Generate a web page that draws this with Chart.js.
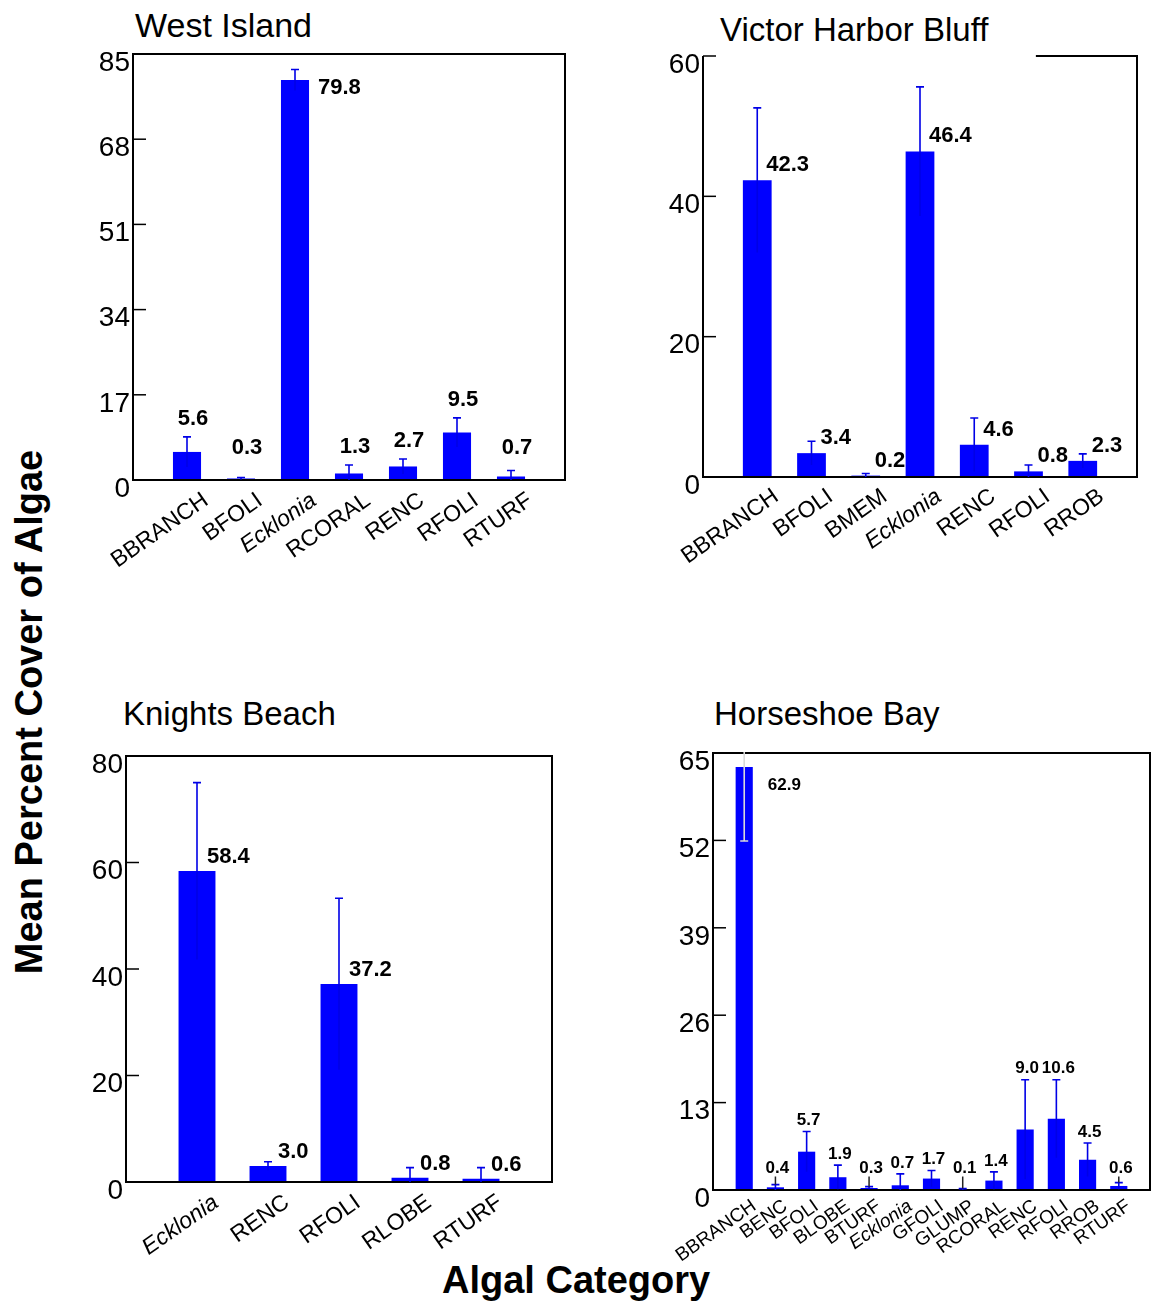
<!DOCTYPE html>
<html>
<head>
<meta charset="utf-8">
<script src="https://cdn.jsdelivr.net/npm/chart.js@4.4.1/dist/chart.umd.min.js"></script>
<style>
body{margin:0;background:#fff;width:1152px;height:1315px;position:relative;overflow:hidden;font-family:"Liberation Sans",Arial,sans-serif;color:#000}
canvas{position:absolute}
.ttl{position:absolute;font-size:33px;line-height:33px;white-space:nowrap}
.axt{position:absolute;font-size:38px;line-height:38px;font-weight:bold;white-space:nowrap}
</style>
</head>
<body>
<div class="ttl" style="left:135px;top:9px;font-size:34px">West Island</div>
<div class="ttl" style="left:720px;top:13px">Victor Harbor Bluff</div>
<div class="ttl" style="left:123px;top:697px">Knights Beach</div>
<div class="ttl" style="left:714px;top:697px">Horseshoe Bay</div>
<div class="axt" style="left:442px;top:1261px">Algal Category</div>
<div class="axt" style="left:29px;top:712px;transform:translate(-50%,-50%) rotate(-90deg)">Mean Percent Cover of Algae</div>

<canvas id="west"></canvas>
<canvas id="victor"></canvas>
<canvas id="knights"></canvas>
<canvas id="horse"></canvas>

<script>
// West Island
const westCats=['BBRANCH','BFOLI','Ecklonia','RCORAL','RENC','RFOLI','RTURF']
const westMeans=[5.6,0.3,79.8,1.3,2.7,9.5,0.7]
const westErrs=[3.0,0.2,2.1,1.7,1.5,2.9,1.2]
const westTicks=[0,17,34,51,68,85]

// Victor Harbor Bluff
const victorCats=['BBRANCH','BFOLI','BMEM','Ecklonia','RENC','RFOLI','RROB']
const victorMeans=[42.3,3.4,0.2,46.4,4.6,0.8,2.3]
const victorErrs=[10.3,1.7,0.3,9.2,3.8,0.9,1.0]
const victorTicks=[0,20,40,60]

// Knights Beach
const knightsCats=['Ecklonia','RENC','RFOLI','RLOBE','RTURF']
const knightsMeans=[58.4,3.0,37.2,0.8,0.6]
const knightsErrs=[16.6,0.8,16.1,1.9,2.1]
const knightsTicks=[0,20,40,60,80]

// Horseshoe Bay
const horseCats=['BBRANCH','BENC','BFOLI','BLOBE','BTURF','Ecklonia','GFOLI','GLUMP','RCORAL','RENC','RFOLI','RROB','RTURF']
const horseMeans=[62.9,0.4,5.7,1.9,0.3,0.7,1.7,0.1,1.4,9.0,10.6,4.5,0.6]
const horseErrs=[11.0,0.4,3.0,1.8,0.2,1.7,1.2,0.1,1.3,7.4,5.8,2.5,0.5]
const horseTicks=[0,13,26,39,52,65]

Chart.defaults.font.family='"Liberation Sans", Arial, sans-serif'
Chart.defaults.color='#000'

const BLUE='#0000ff'

// draws box, inner ticks, error bars and value labels
function overlay(o){
  return {
    id:'overlay',
    afterDatasetsDraw(chart){
      const ctx=chart.ctx, a=chart.chartArea, y=chart.scales.y
      const meta=chart.getDatasetMeta(0)
      ctx.save()
      ctx.strokeStyle='#000'
      ctx.lineWidth=2
      ctx.beginPath()
      ctx.moveTo(a.left+(a.right-a.left)*(o.topFrom||0),a.top)
      ctx.lineTo(a.right,a.top)
      ctx.lineTo(a.right,a.bottom)
      ctx.lineTo(a.left,a.bottom)
      ctx.lineTo(a.left,a.top)
      if(!o.topFrom) ctx.closePath()
      ctx.stroke()
      ctx.lineWidth=1.5
      y.ticks.forEach(t=>{
        const py=y.getPixelForValue(t.value)
        ctx.beginPath(); ctx.moveTo(a.left,py); ctx.lineTo(a.left+13,py); ctx.stroke()
      })

      // error bars, clipped to the plot
      ctx.save()
      ctx.beginPath(); ctx.rect(a.left,a.top-1,a.right-a.left,a.bottom-a.top+1); ctx.clip()
      o.means.forEach((m,i)=>{
        const bar=meta.data[i+1]
        const top=y.getPixelForValue(m+o.errs[i])
        const low=y.getPixelForValue(Math.max(0,m-o.errs[i]))
        ctx.strokeStyle=(o.errColor&&o.errColor[i])||'#0000e6'
        ctx.lineWidth=1.6
        ctx.beginPath(); ctx.moveTo(bar.x,low); ctx.lineTo(bar.x,top)
        ctx.moveTo(bar.x-4,top); ctx.lineTo(bar.x+4,top)
        if(o.errColor&&o.errColor[i]){ctx.moveTo(bar.x-4,low); ctx.lineTo(bar.x+4,low)}
        ctx.stroke()
      })
      ctx.restore()

      ctx.fillStyle='#000'
      ctx.font='bold '+o.labelSize+'px "Liberation Sans", Arial, sans-serif'
      ctx.textBaseline='middle'
      o.means.forEach((m,i)=>{
        const bar=meta.data[i+1]
        const txt=m.toFixed(1)
        const barTop=y.getPixelForValue(m)
        const errTop=y.getPixelForValue(m+o.errs[i])
        if(o.mode==='side'){
          ctx.textAlign='left'
          ctx.fillText(txt,bar.x+o.dx,barTop-o.gap)
          return
        }
        let ly=Math.min(errTop-o.gap,a.bottom-o.floor)
        if(ly-o.labelSize/2<a.top+4){
          ctx.textAlign='left'
          ctx.fillText(txt,bar.x+bar.width/2+o.sideDx,barTop+o.drop)
          return
        }
        ctx.textAlign='center'
        ctx.fillText(txt,bar.x+o.dx,ly)
        const lb=ly+o.labelSize/2
        if(o.leaders&&errTop-lb>5){
          ctx.strokeStyle='#222'; ctx.lineWidth=1.5
          ctx.beginPath(); ctx.moveTo(bar.x,lb); ctx.lineTo(bar.x,errTop); ctx.stroke()
        }
      })
      ctx.restore()
    }
  }
}

function makeChart(id,cats,means,errs,ticks,L,o){
  const cv=document.getElementById(id)
  const [cl,ct,cr,cb]=L.canvas
  const [pl,pt,pr,pb]=L.plot
  cv.width=cr-cl; cv.height=cb-ct
  cv.style.left=cl+'px'; cv.style.top=ct+'px'
  cv.style.width=(cr-cl)+'px'; cv.style.height=(cb-ct)+'px'
  o.means=means; o.errs=errs
  return new Chart(cv,{
    type:'bar',
    data:{
      labels:['',...cats,''],
      datasets:[{data:[null,...means,null],backgroundColor:BLUE,borderWidth:0,
        barPercentage:o.barPct,categoryPercentage:1}]
    },
    options:{
      responsive:false,animation:false,events:[],
      layout:{padding:{top:pt-ct,right:cr-pr,left:0,bottom:0}},
      plugins:{legend:{display:false},tooltip:{enabled:false}},
      scales:{
        x:{
          type:'category',offset:false,
          grid:{display:false,drawTicks:false},border:{display:false},
          ticks:{autoSkip:false,minRotation:35,maxRotation:35,padding:o.xPad,labelOffset:o.xOff,color:'#000',
            font:c=>({size:o.xSize,style:(c.tick&&c.tick.label==='Ecklonia')?'italic':'normal'})},
          afterFit:s=>{s.height=cb-pb;s.paddingLeft=0;s.paddingRight=0}
        },
        y:{
          min:0,max:ticks[ticks.length-1],
          grid:{display:false,drawTicks:false},border:{display:false},
          ticks:{padding:3,labelOffset:9,color:'#000',font:{size:28}},
          afterBuildTicks:s=>{s.ticks=ticks.map(v=>({value:v}))},
          afterFit:s=>{s.width=pl-cl;s.paddingTop=0;s.paddingBottom=0}
        }
      }
    },
    plugins:[overlay(o)]
  })
}

makeChart('west',westCats,westMeans,westErrs,westTicks,
  {canvas:[40,20,590,585],plot:[133,54,565,480]},
  {barPct:0.52,xSize:23,xPad:7,xOff:19,mode:'above',labelSize:22,dx:6,gap:18,floor:32,sideDx:9,drop:8})

makeChart('victor',victorCats,victorMeans,victorErrs,victorTicks,
  {canvas:[620,20,1152,590],plot:[703,56,1137,477]},
  {barPct:0.53,xSize:23,xPad:6,xOff:19,mode:'side',labelSize:22,dx:9,gap:15,topFrom:0.767})

makeChart('knights',knightsCats,knightsMeans,knightsErrs,knightsTicks,
  {canvas:[40,730,575,1262],plot:[126,756,552,1182]},
  {barPct:0.52,xSize:23,xPad:7,xOff:19,mode:'side',labelSize:22,dx:10,gap:14})

makeChart('horse',horseCats,horseMeans,horseErrs,horseTicks,
  {canvas:[630,725,1152,1265],plot:[713,753,1150,1190]},
  {barPct:0.55,xSize:19,xPad:5,xOff:10,mode:'above',labelSize:17,dx:2,gap:11,floor:22,sideDx:15,drop:18,
   leaders:true,errColor:['#d9d9d9']})
</script>
</body>
</html>
